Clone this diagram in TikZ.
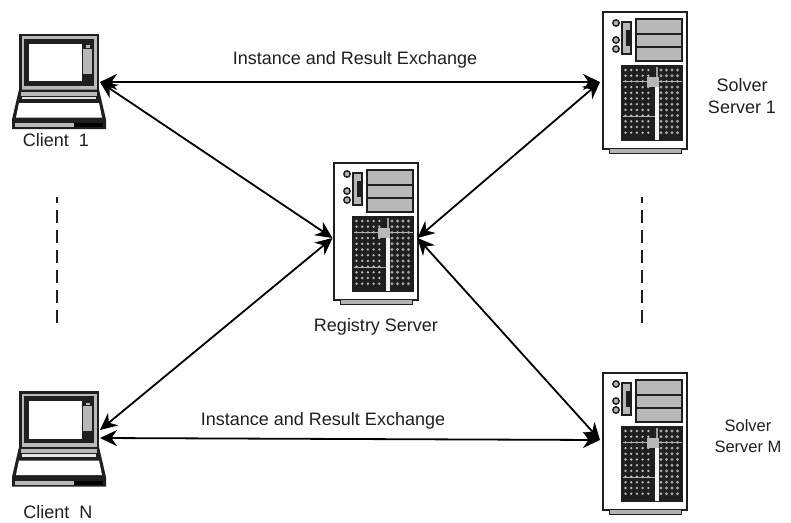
\documentclass[tikz,border=0pt]{standalone}
\usepackage{fontspec}
\setmainfont{Liberation Sans}
\usetikzlibrary{arrows.meta}
\definecolor{grayfill}{gray}{0.72}
\definecolor{inkc}{gray}{0.12}
\tikzset{
  x=1pt,y=-1pt,
  lbl/.style={font=\fontsize{18}{21.5}\selectfont,text=inkc,align=center,inner sep=0pt},
  lblsmall/.style={font=\fontsize{16.5}{21}\selectfont,text=inkc,align=center,inner sep=0pt},
  hub/.style={draw=none,inner sep=0pt,outer sep=0pt,minimum width=#1},
  link/.style={line width=1.8pt,draw=black,{Stealth[length=17pt,width=16pt]}-{Stealth[length=17pt,width=16pt]}},
  dots/.style={line width=2pt,draw=inkc,dash pattern=on 13pt off 7pt,dash phase=7pt},
  pics/laptop/.style={code={
    % lid
    \fill[inkc] (9,0) rectangle (89,58);
    \fill[gray!55] (11.5,2.5) rectangle (86.5,56);
    \fill[inkc] (14,5) rectangle (84,52);
    \fill[white] (19,10) rectangle (72,47.5);
    \fill[grayfill] (73,10) rectangle (82,41);
    \fill[inkc] (73,40) rectangle (82,49);
    \fill[inkc] (73,10) rectangle (82,15);
    \fill[grayfill] (75.5,11.5) rectangle (79.5,14);
    % deck
    \fill[inkc] (9,56) -- (89,56) -- (96,86) -- (96,95.5) -- (2,95.5) -- (2,86) -- cycle;
    \fill[gray!55] (11,58) rectangle (87,62);
    \fill[grayfill!35!white] (12,63) rectangle (86,65.5);
    \fill[white] (9,69.5) -- (89,69.5) -- (92,84) -- (6,84) -- cycle;
    \fill[grayfill] (5,89.5) rectangle (64,93.5);
    \fill[black] (64,89.5) rectangle (93,93.5);
  }},
  pics/tower/.style={code={
    \draw[line width=1.6pt,draw=inkc,fill=white] (0,0) rectangle (84,137);
    \fill[gray!60] (6,137) rectangle (78,141);
    \draw[line width=.8pt,draw=inkc] (6,137) -- (6,141) -- (78,141) -- (78,137);
    % buttons
    \foreach \yy in {11,28,37} \draw[line width=1.4pt,draw=inkc,fill=gray!60] (13,\yy) circle (3.2);
    \draw[line width=1.4pt,draw=inkc,fill=grayfill] (19,10) rectangle (28,42);
    \fill[inkc] (23,18) rectangle (27,34);
    % bays
    \draw[line width=1.6pt,draw=inkc,fill=grayfill] (33,7) rectangle (79,49);
    \draw[line width=1.6pt,draw=inkc] (33,22) -- (79,22) (33,35) -- (79,35);
    % grille
    \fill[inkc] (18,53) rectangle (80,129);
    \foreach \xx in {22.5,28.2,...,50} \foreach \yy in {58,63.7,...,126}
      \fill[gray!50] (\xx,\yy) circle (1.3);
    \foreach \xx in {58,63.5,...,78} \foreach \yy in {58,63.7,...,126}
      \fill[gray!70] (\xx,\yy) circle (1.6);
    \fill[white!90!gray] (52,75) rectangle (55.5,127.5);
    \fill[gray!75] (52.5,54.5) rectangle (55,65);
    \fill[gray!60] (19.5,68.9) rectangle (78.5,70.1);
    \fill[gray!60] (19.5,103.7) rectangle (52,104.9);
    \fill[grayfill] (44,65) rectangle (56,75);
  }}
}
\begin{document}
\begin{tikzpicture}
\useasboundingbox (0,0) rectangle (791,522);
\fill[white] (0,0) rectangle (791,522);
% artwork
\pic at (10,33.5) {laptop};
\pic at (10,391) {laptop};
\pic at (603,12) {tower};
\pic at (334,163) {tower};
\pic at (603,373) {tower};
% anchor nodes
\node[hub=90pt,minimum height=96pt] (c1) at (55,82) {};
\node[hub=90pt,minimum height=96pt] (cN) at (55,430) {};
\coordinate (cNport) at (100,438);
\node[hub=86pt,minimum height=136pt] (s1) at (643,82) {};
\node[hub=86pt,minimum height=136pt] (sM) at (643,440) {};
\node[hub=85pt,minimum height=134pt] (reg) at (375,238) {};
% connectors
\draw[link] (c1.east) -- (s1.west);
\draw[link] (cNport) -- (sM.west);
\draw[link] (c1.east) -- (reg.west);
\draw[link] (cN.east) -- (reg.west);
\draw[link] (s1.west) -- (reg.east);
\draw[link] (sM.west) -- (reg.east);
% dashed
\coordinate (d1a) at (57,197); \coordinate (d1b) at (57,328);
\coordinate (d2a) at (642,197); \coordinate (d2b) at (642,328);
\draw[dots] (d1a) -- (d1b);
\draw[dots] (d2a) -- (d2b);
% labels
\node[lbl] (l1) at (355,60) {Instance and Result Exchange};
\node[lbl] (l2) at (323,421) {Instance and Result Exchange};
\node[lbl] (l3) at (56,140) {Client\ \ 1};
\node[lbl] (l4) at (58,512.5) {Client\ \ N};
\node[lbl] (l5) at (376,327) {Registry Server};
\node[lbl] (l6) at (742,96) {Solver\\Server 1};
\node[lblsmall] (l7) at (748,436) {Solver\\Server M};
\end{tikzpicture}
\end{document}
